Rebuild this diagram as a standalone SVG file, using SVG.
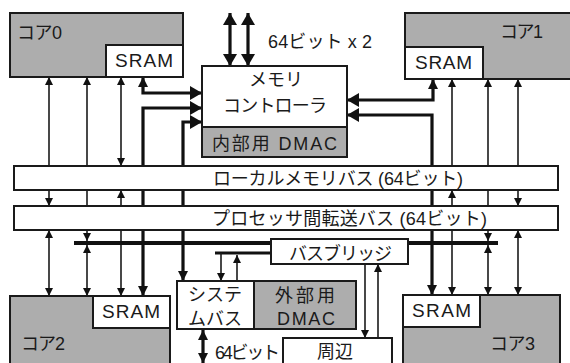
<svg xmlns="http://www.w3.org/2000/svg" width="570" height="363" viewBox="0 0 570 363">
<style>
text{font-family:"Liberation Sans","Noto Sans CJK JP",sans-serif;font-size:18px;fill:#1a1a1a}
.s{font-size:19px}
.box{stroke:#1a1a1a;stroke-width:2}
.g{fill:#adadad}
.w{fill:#fff}
.thin{fill:none;stroke:#1a1a1a;stroke-width:1.6}
.thick{fill:none;stroke:#111;stroke-width:3.2}
.bar{fill:none;stroke:#111;stroke-width:4}
.bar2{fill:none;stroke:#111;stroke-width:3}
</style>
<defs>
<marker id="a" viewBox="0 0 8 8" refX="8" refY="4" markerWidth="8" markerHeight="8" markerUnits="userSpaceOnUse" orient="auto-start-reverse"><path d="M0,0L8,4L0,8z" fill="#111"/></marker>
<marker id="t" viewBox="0 0 10 10" refX="10" refY="5" markerWidth="10" markerHeight="10" markerUnits="userSpaceOnUse" orient="auto-start-reverse"><path d="M0,0L10,5L0,10z" fill="#111"/></marker>
<marker id="b" viewBox="0 0 12 14" refX="12" refY="7" markerWidth="12" markerHeight="14" markerUnits="userSpaceOnUse" orient="auto-start-reverse"><path d="M0,0L12,7L0,14z" fill="#111"/></marker>
</defs>
<g id="connectors">
<path class="thin" d="M49,77V206" marker-start="url(#a)" marker-end="url(#a)"/>
<path class="thin" d="M87,77V241" marker-start="url(#a)" marker-end="url(#a)"/>
<path class="thin" d="M121,77V166" marker-start="url(#a)" marker-end="url(#a)"/>
<path class="thin" d="M121,190V296" marker-start="url(#a)" marker-end="url(#a)"/>
<path class="thin" d="M49,230V296" marker-start="url(#a)" marker-end="url(#a)"/>
<path class="thin" d="M87,245V296" marker-start="url(#a)" marker-end="url(#a)"/>
<path class="thin" d="M452,79V166" marker-start="url(#a)"/>
<path class="thin" d="M452,190V295" marker-start="url(#a)" marker-end="url(#a)"/>
<path class="thin" d="M488,79V241" marker-start="url(#a)" marker-end="url(#a)"/>
<path class="thin" d="M488,245V295" marker-start="url(#a)" marker-end="url(#a)"/>
<path class="thin" d="M518,79V206" marker-start="url(#a)" marker-end="url(#a)"/>
<path class="thin" d="M518,230V295" marker-start="url(#a)" marker-end="url(#a)"/>
<path class="bar" d="M74,243H271M408,243H498"/>
<path class="bar2" d="M215,253H271"/>
<path class="thin" d="M221,253V281" marker-end="url(#a)"/>
<path class="thin" d="M237,281V255" marker-end="url(#a)"/>
<path class="thin" d="M365,264V338" marker-end="url(#a)"/>
<path class="thin" d="M378,338V264" marker-end="url(#a)"/>
<path class="thick" d="M143,77V93H202" marker-start="url(#t)" marker-end="url(#b)"/>
<path class="thick" d="M143,296V108H202" marker-start="url(#t)" marker-end="url(#b)"/>
<path class="thick" d="M183,281V122H202" marker-start="url(#t)" marker-end="url(#b)"/>
<path class="thick" d="M433,79V100H347" marker-start="url(#t)" marker-end="url(#b)"/>
<path class="thick" d="M432,295V115H347" marker-start="url(#t)" marker-end="url(#b)"/>
<path class="thick" d="M230,13V66" marker-start="url(#b)" marker-end="url(#b)"/>
<path class="thick" d="M248,13V66" marker-start="url(#b)" marker-end="url(#b)"/>
<path class="thick" d="M203,330V363" marker-start="url(#t)" marker-end="url(#t)"/>
</g>
<text x="268" y="48" textLength="104">64ビット x 2</text>
<g id="core0">
<rect class="box g" x="10" y="13" width="173" height="64"/>
<rect class="box w" x="106" y="45" width="77" height="32"/>
<text x="17" y="39" textLength="45">コア0</text>
<text class="s" x="115" y="67" textLength="58">SRAM</text>
</g>
<g id="core1">
<rect class="box g" x="405" y="13" width="170" height="66"/>
<rect class="box w" x="405" y="47" width="78" height="32"/>
<text x="500" y="38" textLength="43">コア1</text>
<text class="s" x="415" y="69" textLength="57">SRAM</text>
</g>
<g id="core2">
<rect class="box g" x="10" y="296" width="160" height="80"/>
<rect class="box w" x="93" y="296" width="77" height="32"/>
<text x="21" y="350" textLength="44">コア2</text>
<text class="s" x="102" y="318" textLength="58">SRAM</text>
</g>
<g id="core3">
<rect class="box g" x="403" y="295" width="157" height="80"/>
<rect class="box w" x="403" y="295" width="77" height="32"/>
<text x="490" y="350" textLength="45">コア3</text>
<text class="s" x="412" y="317" textLength="59">SRAM</text>
</g>
<g id="memctrl">
<rect class="box w" x="202" y="66" width="145" height="91"/>
<rect class="box g" x="202" y="127" width="145" height="30"/>
<text x="276" y="86" text-anchor="middle">メモリ</text>
<text x="223" y="112" textLength="104">コントローラ</text>
<text x="212" y="150" textLength="125">内部用 DMAC</text>
</g>
<g id="localbus">
<rect class="box w" x="14" y="166" width="544" height="24"/>
<text x="213" y="185" textLength="250">ローカルメモリバス (64ビット)</text>
</g>
<g id="procbus">
<rect class="box w" x="14" y="206" width="544" height="24"/>
<text x="212" y="225" textLength="275">プロセッサ間転送バス (64ビット)</text>
</g>
<g id="bridge">
<rect class="box w" x="271" y="239" width="137" height="25"/>
<text x="289" y="260" textLength="103">バスブリッジ</text>
</g>
<g id="sysbus">
<rect class="box w" x="177" y="281" width="77" height="48"/>
<text x="188" y="301" textLength="54">システ</text>
<text x="188" y="325" textLength="54">ムバス</text>
</g>
<g id="extdmac">
<rect class="box g" x="254" y="281" width="102" height="48"/>
<text x="275" y="302" textLength="60">外部用</text>
<text x="277" y="325" textLength="58">DMAC</text>
</g>
<g id="periph">
<rect class="box w" x="283" y="338" width="109" height="40"/>
<text x="335" y="358" text-anchor="middle">周辺</text>
</g>
<text x="215" y="359" textLength="65">64ビット</text>
</svg>
